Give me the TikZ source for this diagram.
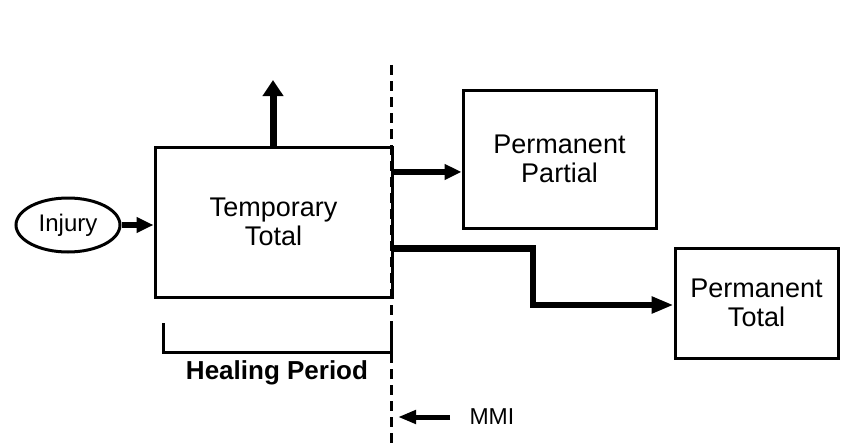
\documentclass[tikz,border=0pt]{standalone}
\usepackage{fontspec}
\setmainfont{Liberation Sans}
\usetikzlibrary{shapes,arrows.meta,positioning,calc}

\tikzset{
    box/.style={draw, line width=3pt, align=center, inner sep=0pt,
        font=\fontsize{27}{29}\selectfont},
    flow/.style={line width=5.5pt, -{Triangle[length=17pt,width=15pt]}},
}

\begin{document}
\begin{tikzpicture}[x=1pt, y=-1pt]
    \useasboundingbox (0,0) rectangle (851,444);

    % Boxes
    \node[box, minimum width=237pt, minimum height=150pt] (tt) at (273.5,222) {Temporary\\Total};
    \node[box, minimum width=193pt, minimum height=138pt] (pp) at (559.5,159) {Permanent\\Partial};
    \node[box, minimum width=163pt, minimum height=110pt] (pt) at (756.5,303) {Permanent\\Total};
    \node[draw, ellipse, line width=3pt, minimum width=104pt, minimum height=54pt, inner sep=0pt,
        font=\fontsize{24}{26}\selectfont] (inj) at (68,225) {Injury};

    % MMI line
    \coordinate (mtop) at (391,65);
    \coordinate (mbot) at (391,444);
    \draw[line width=3pt, dash pattern=on 10pt off 6pt] (mtop) -- (mbot);

    % Arrows
    \coordinate (up) at (273,80);
    \coordinate (s1) at ($(tt.north east)!0.173!(tt.south east)$);
    \coordinate (s2) at ($(tt.north east)!0.673!(tt.south east)$);
    \coordinate (bend) at (533,305);
    \draw[flow] (inj) -- (tt.west |- inj);
    \draw[flow, line width=7pt, -{Triangle[length=16pt,width=20pt]}] (tt.north -| up) -- (up);
    \draw[flow] (s1) -- (pp.west |- s1);
    \draw[flow, line width=6.5pt, -{Triangle[length=22pt,width=16pt]}] (s2) -| (bend) -- (pt.west |- bend);

    % Healing period
    \coordinate (hl) at (163,323);
    \coordinate (hr) at (391,323);
    \draw[line width=3pt] (hl) |- (391,352) -- (hr);
    \node[font=\bfseries\fontsize{26}{28}\selectfont] (heal) at (277,373) {Healing Period};

    % MMI label
    \node[font=\fontsize{23}{25}\selectfont, anchor=west] (mmi) at (466,417) {MMI};
    \coordinate (mmiend) at (398,417);
    \draw[line width=5pt, -{Triangle[length=18pt,width=13pt]}] (450,417) -- (mmiend);
\end{tikzpicture}
\end{document}
